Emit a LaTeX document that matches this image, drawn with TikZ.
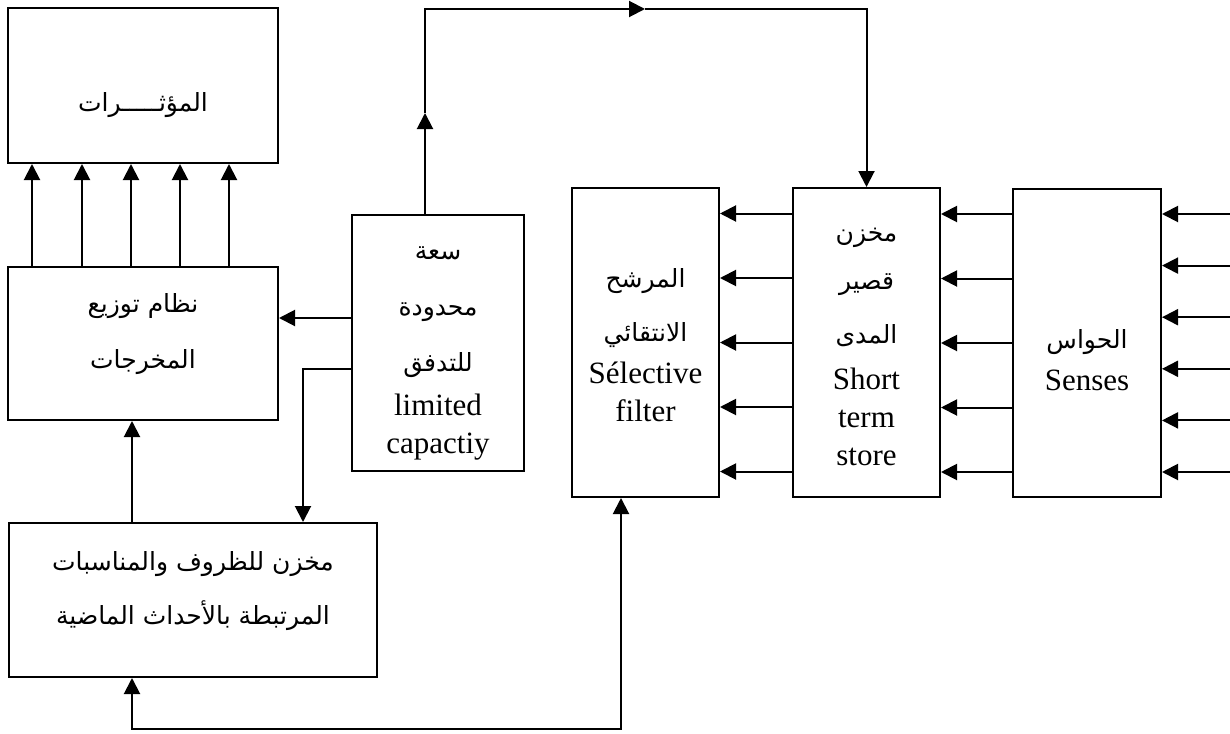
\documentclass[tikz,border=0pt]{standalone}
\usepackage{fontspec}
\setmainfont{Liberation Serif}
\newfontfamily\arabicfont[Script=Arabic]{DejaVu Sans}
\TeXXeTstate=1
\usetikzlibrary{shapes,arrows.meta}
\newcommand{\arf}{\arabicfont\fontsize{12.5}{15}\selectfont}
\tikzstyle{block} = [rectangle, draw, line width=1pt, inner sep=0pt]
\tikzstyle{txt} = [align=center, inner sep=0pt, font=\fontsize{15.5}{19}\selectfont]
\tikzstyle{line} = [draw, line width=1pt, -{Triangle[length=8pt,width=8pt]}]
\tikzstyle{dline} = [draw, line width=1pt,
{Triangle[length=8pt,width=8pt]}-{Triangle[length=8pt,width=8pt]}]

\begin{document}
\begin{tikzpicture}[x=0.5pt, y=-0.5pt]
\useasboundingbox (0,0) rectangle (1230,733);
% Place nodes
\node [block, minimum width=135pt, minimum height=77.5pt,
  label={[txt, yshift=-10pt]center:{\arf\beginR المؤثـــــرات\endR}}] (eff) at (143,85.5) {};
\node [block, minimum width=135pt, minimum height=76.5pt,
  label={[txt, yshift=4.5pt]center:{{\arf\beginR نظام توزيع\endR}\\[9pt]{\arf\beginR المخرجات\endR}}}] (out) at (143,343.5) {};
\node [block, minimum width=86pt, minimum height=128pt,
  label={[txt, yshift=-5pt]center:{{\arf\beginR سعة\endR}\\[9pt]{\arf\beginR محدودة\endR}\\[9pt]{\arf\beginR للتدفق\endR}\\[3pt]limited\\capactiy}}] (lim) at (438,343) {};
\node [block, minimum width=184pt, minimum height=77pt,
  label={[txt, yshift=4.5pt]center:{{\arf\beginR مخزن للظروف والمناسبات\endR}\\[8pt]{\arf\beginR المرتبطة بالأحداث الماضية\endR}}}] (mem) at (193,600) {};
\node [block, minimum width=73.5pt, minimum height=154.5pt,
  label={[txt, yshift=-1.5pt]center:{{\arf\beginR المرشح\endR}\\[8pt]{\arf\beginR الانتقائي\endR}\\[2pt]Sélective\\filter}}] (fil) at (645.5,342.5) {};
\node [block, minimum width=73.5pt, minimum height=154.5pt,
  label={[txt, yshift=-2pt]center:{{\arf\beginR مخزن\endR}\\[5pt]{\arf\beginR قصير\endR}\\[8pt]{\arf\beginR المدى\endR}\\[4pt]Short\\term\\store}}] (sts) at (866.5,342.5) {};
\node [block, minimum width=74pt, minimum height=154pt,
  label={[txt, yshift=-8.5pt]center:{{\arf\beginR الحواس\endR}\\[2pt]Senses}}] (sen) at (1087,343) {};
\coordinate (uptip) at (425,113);
\coordinate (righttip) at (645,9);
% Draw edges
\foreach \d in {12.5,37.5,62,86.5,111}
  \path [line] ([xshift=\d pt]out.north west) -- ([xshift=\d pt]out.north west |- eff.south);
\path [line] ([yshift=12.5pt]lim.west) -- ([yshift=12.5pt]lim.west -| out.east);
\path [line] ([yshift=-13pt]lim.west) -| ([xshift=55pt]mem.north);
\path [line] ([xshift=-30.5pt]mem.north) -- ([xshift=-30.5pt]mem.north |- out.south);
\path [line] ([xshift=-6.5pt]lim.north) -- (uptip);
\path [line] (uptip) |- (righttip);
\path [line] (righttip) -| (sts.north);
\foreach \d in {64.5,32.25,0,-32.25,-64.5} {
  \path [line] ([yshift=\d pt]sen.west) -- ([yshift=\d pt]sen.west -| sts.east);
  \path [line] ([yshift=\d pt]sts.west) -- ([yshift=\d pt]sts.west -| fil.east);
}
\foreach \d in {64.5,38.7,12.9,-12.9,-38.7,-64.5}
  \path [line] ([xshift=34.5pt, yshift=\d pt]sen.east) -- ([yshift=\d pt]sen.east);
\path [dline] ([xshift=-12.25pt]fil.south) -- ++(0,231) -| ([xshift=-30.5pt]mem.south);
\end{tikzpicture}
\end{document}
